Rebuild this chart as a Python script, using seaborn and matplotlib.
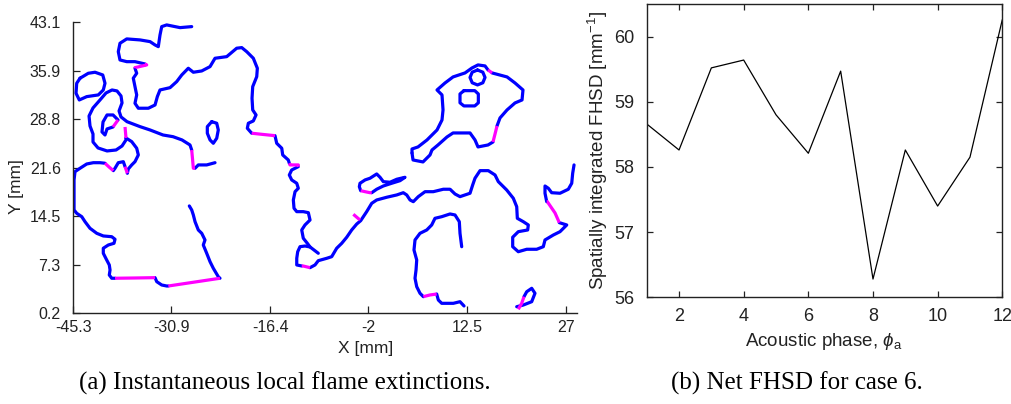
import numpy as np
import pandas as pd
import matplotlib
matplotlib.use("Agg")
import matplotlib.pyplot as plt
import seaborn as sns

# ---------------- data: panel (b) ----------------
phase = [1, 2, 3, 4, 5, 6, 7, 8, 9, 10, 11, 12]
fhsd = [58.66, 58.26, 59.52, 59.64, 58.80, 58.21, 59.47, 56.28, 58.26, 57.40, 58.15, 60.26]
b_xticks = [2, 4, 6, 8, 10, 12]
b_yticks = [56, 57, 58, 59, 60]

# ---------------- data: panel (a) flame contours [mm] ----------------
a_xticks = [-45.3, -30.9, -16.4, -2, 12.5, 27]
a_xlabels = ["-45.3", "-30.9", "-16.4", "-2", "12.5", "27"]
a_yticks = [0.2, 7.3, 14.5, 21.6, 28.8, 35.9, 43.1]
a_ylabels = ["0.2", "7.3", "14.5", "21.6", "28.8", "35.9", "43.1"]

# flame front (blue) pieces
top_b1 = [(-27.93, 42.42), (-29.64, 42.27), (-31.60, 42.67), (-32.33, 42.42), (-32.58, 41.19),
          (-32.83, 39.47), (-33.31, 39.72), (-34.04, 40.21), (-35.51, 40.46), (-37.46, 40.61),
          (-38.45, 39.97), (-38.70, 38.73), (-38.45, 37.51), (-37.46, 37.26), (-36.25, 37.26),
          (-34.78, 36.92)]
top_b2 = [(-36.25, 36.29), (-36.00, 35.55), (-36.50, 34.82), (-36.25, 33.58), (-36.00, 32.36),
          (-36.25, 31.13), (-35.76, 30.40), (-34.29, 30.40), (-33.31, 30.88), (-32.97, 32.11),
          (-32.58, 33.09), (-31.11, 33.43), (-30.13, 34.32), (-29.39, 35.30), (-28.43, 36.29),
          (-27.69, 35.70), (-26.46, 35.89), (-25.24, 36.53), (-24.51, 37.76), (-22.79, 38.00),
          (-21.33, 39.24), (-20.59, 39.33), (-19.86, 38.73), (-18.89, 37.76), (-18.30, 36.29),
          (-18.39, 35.05), (-18.98, 33.58), (-19.08, 31.87), (-18.98, 30.15), (-18.49, 29.41),
          (-18.89, 28.53), (-19.62, 28.19), (-19.77, 27.45), (-19.13, 26.72)]
top_b3 = [(-15.71, 26.36), (-15.46, 25.24), (-14.72, 24.51), (-14.58, 23.52), (-13.76, 22.78),
          (-13.61, 22.30)]
top_b4 = [(-12.29, 21.80), (-13.26, 21.31), (-13.61, 20.57), (-13.26, 19.84), (-12.52, 19.35),
          (-12.29, 18.61), (-12.77, 18.11), (-13.02, 16.89), (-12.92, 15.67), (-12.52, 15.17),
          (-11.56, 15.17), (-10.82, 15.02), (-10.57, 13.94), (-11.31, 13.21), (-11.79, 12.47),
          (-11.56, 11.25), (-10.97, 10.51), (-10.57, 9.97), (-10.18, 9.67), (-9.36, 9.04)]
top_b5 = [(-10.57, 9.97), (-11.31, 10.11), (-12.04, 10.01), (-12.38, 9.27), (-12.52, 8.30),
          (-12.52, 7.32), (-11.79, 7.17)]
top_b6 = [(-10.57, 6.92), (-9.84, 7.32), (-9.36, 7.95), (-8.12, 8.30), (-7.39, 8.54),
          (-6.66, 9.78), (-5.92, 10.51), (-5.19, 11.40), (-4.46, 12.47), (-3.72, 13.35),
          (-3.14, 13.84), (-2.26, 15.17), (-1.52, 16.40), (-0.79, 16.89), (0.68, 17.29),
          (2.15, 17.63), (3.11, 17.96), (3.61, 17.63), (4.10, 16.89), (4.58, 16.64),
          (5.31, 17.38), (6.30, 18.11), (7.51, 18.11), (8.98, 18.47), (9.97, 18.47),
          (10.70, 17.77), (11.43, 17.38), (12.90, 17.88), (13.29, 19.10), (13.63, 20.09),
          (14.37, 21.21), (15.58, 21.21), (16.57, 20.57), (17.05, 19.59), (18.28, 18.36),
          (19.25, 17.14), (19.75, 15.90), (19.84, 14.19), (20.72, 13.69), (21.45, 13.21),
          (21.36, 12.47), (19.98, 12.22), (19.16, 11.40), (19.16, 10.01), (19.98, 9.27),
          (21.22, 9.63), (22.68, 9.63), (23.65, 10.01), (23.90, 11.00), (25.12, 11.73),
          (26.10, 12.22), (26.84, 12.96), (27.09, 13.21), (26.00, 13.55)]
top_b7 = [(24.15, 16.64), (23.90, 17.88), (23.90, 18.95), (24.39, 18.61), (24.88, 17.96),
          (26.10, 17.88), (27.32, 18.47), (27.82, 19.35), (27.96, 20.82), (28.16, 22.05)]
tongue_b = [(-1.52, 17.96), (-0.79, 18.47), (0.18, 18.95), (1.41, 19.35), (2.63, 19.73),
            (3.36, 20.23), (2.15, 19.94), (1.16, 19.50), (0.18, 19.59), (-0.30, 20.23),
            (-0.79, 20.72), (-1.77, 20.09), (-2.50, 19.84), (-3.24, 19.35), (-3.34, 18.85),
            (-3.14, 18.26)]
c_b1 = [(11.68, 10.01), (11.43, 11.98), (11.33, 13.69), (10.70, 14.68), (9.97, 14.83),
        (8.75, 14.43), (7.76, 14.19), (7.28, 13.21), (6.55, 12.47), (5.56, 11.98),
        (4.83, 11.00), (4.68, 9.52), (5.08, 8.05), (4.98, 6.58), (4.83, 5.36), (5.08, 4.12),
        (5.56, 3.15), (6.05, 2.65)]
c_b2 = [(8.01, 3.04), (8.25, 2.16), (8.75, 1.67), (10.45, 1.67), (11.43, 1.91), (12.02, 1.28)]
loop_b = [(20.82, 2.65), (21.22, 3.38), (21.95, 3.88), (22.43, 3.15), (21.95, 1.91),
          (20.72, 1.42), (19.75, 1.17)]
blob_b1 = [(4.39, 23.81), (4.54, 22.78), (6.00, 22.49), (7.03, 23.52), (7.32, 24.25),
           (8.20, 24.99), (9.52, 26.17), (10.41, 26.76), (12.90, 26.76), (13.63, 25.73),
           (14.07, 24.70), (15.54, 24.99), (16.27, 25.43)]
blob_b2 = [(16.86, 27.79), (17.30, 28.97), (18.33, 30.15), (19.50, 31.18), (20.53, 31.62),
           (20.67, 33.09), (19.50, 34.12), (18.33, 35.01), (16.13, 35.60)]
blob_b3 = [(15.54, 36.04), (15.10, 36.63), (14.07, 36.78), (13.19, 36.33), (12.17, 35.60),
           (10.41, 35.01), (9.23, 34.12), (8.06, 33.09), (8.79, 32.36), (8.94, 30.15),
           (8.79, 28.67), (8.06, 27.20), (6.59, 25.73), (5.27, 24.70), (4.39, 24.40),
           (4.39, 23.81)]
blob_hole1 = [(14.00, 36.03), (14.78, 35.71), (15.10, 34.93), (14.78, 34.15), (14.00, 33.83),
              (13.22, 34.15), (12.90, 34.93), (13.22, 35.71), (14.00, 36.03)]
blob_hole2 = [(12.00, 32.99), (13.60, 32.99), (14.12, 32.50), (14.12, 31.20), (13.60, 30.74),
              (12.00, 30.74), (11.43, 31.20), (11.43, 32.50), (12.00, 32.99)]
oval_b = [(-44.31, 34.82), (-43.10, 35.55), (-42.11, 35.70), (-40.98, 35.30), (-40.65, 34.08),
          (-40.90, 33.09), (-41.63, 32.36), (-43.33, 32.11), (-44.42, 31.62), (-44.90, 32.61),
          (-44.80, 34.08), (-44.31, 34.82)]
s_b1 = [(-24.51, 22.38), (-25.73, 22.05), (-26.96, 22.05), (-27.44, 21.56)]
s_b2 = [(-27.93, 24.25), (-28.18, 24.99), (-29.35, 25.73), (-30.67, 26.21), (-32.14, 26.46),
        (-34.04, 27.20), (-35.51, 27.69), (-37.42, 28.42), (-38.30, 29.12), (-38.59, 30.00),
        (-38.15, 31.18), (-38.30, 32.21), (-38.89, 32.95), (-39.62, 33.09), (-40.50, 32.65),
        (-41.38, 31.62), (-42.41, 30.44), (-42.99, 29.26), (-42.85, 27.79), (-42.41, 26.61),
        (-42.41, 25.43), (-41.67, 24.55), (-40.35, 24.11), (-39.03, 24.25), (-38.15, 24.84),
        (-37.57, 25.73), (-37.57, 26.02)]
s_inner_b = [(-39.47, 27.64), (-40.35, 27.35), (-40.65, 26.46), (-41.09, 26.91), (-40.94, 28.38),
             (-40.35, 29.41), (-39.47, 29.41), (-39.03, 28.97), (-38.74, 28.67)]
small_oval_b = [(-24.99, 28.42), (-24.26, 28.19), (-24.03, 27.20), (-24.26, 25.98), (-24.76, 25.24),
                (-25.24, 25.73), (-25.64, 26.72), (-25.64, 27.69), (-24.99, 28.42)]
left_b1 = [(-37.57, 26.02), (-36.73, 25.48), (-36.00, 24.51), (-35.76, 23.52), (-36.25, 22.53),
           (-36.73, 22.05), (-37.23, 21.46), (-37.37, 20.82)]
left_b2 = [(-37.71, 21.80), (-37.96, 22.53), (-38.70, 22.38), (-39.18, 21.56), (-39.43, 21.21)]
left_b3 = [(-40.65, 22.30), (-41.38, 22.38), (-42.36, 22.38), (-43.33, 22.19), (-44.31, 21.56),
           (-45.05, 21.06), (-45.19, 19.84), (-45.19, 17.88), (-45.19, 15.42), (-44.80, 14.93),
           (-44.06, 14.43), (-43.58, 13.69), (-42.85, 12.72), (-41.86, 11.98), (-40.90, 11.59),
           (-39.66, 11.48), (-39.18, 11.10), (-39.33, 10.51), (-40.16, 10.26), (-40.90, 9.78),
           (-40.90, 9.04), (-40.40, 8.05), (-40.02, 7.32), (-39.91, 6.58), (-40.02, 5.84),
           (-39.66, 5.36), (-39.18, 5.36)]
left_b4 = [(-33.31, 5.45), (-33.06, 4.86), (-32.33, 4.37), (-31.60, 4.22), (-31.36, 4.22)]
left_b5 = [(-23.78, 5.36), (-24.03, 5.59), (-24.76, 6.83), (-25.24, 7.80), (-25.73, 9.04),
           (-26.23, 10.26), (-25.98, 11.00), (-26.46, 11.98), (-26.96, 12.47), (-27.44, 13.69),
           (-27.69, 14.68), (-27.93, 15.42), (-28.28, 16.01)]

# local extinction (magenta) pieces
top_m1 = [(-34.78, 36.92), (-34.53, 36.78), (-35.51, 36.55), (-36.25, 36.38), (-36.25, 36.29)]
top_m2 = [(-19.13, 26.72), (-17.47, 26.54), (-15.71, 26.36)]
top_m3 = [(-13.61, 22.30), (-13.51, 22.05), (-12.29, 22.05), (-12.29, 21.80)]
top_m4 = [(-11.79, 7.17), (-11.60, 7.17), (-10.57, 6.92)]
top_m5 = [(26.00, 13.55), (25.37, 14.98), (24.24, 16.64), (24.15, 16.64)]
spur_m = [(-4.22, 14.78), (-3.24, 13.94)]
tongue_m = [(-3.14, 18.26), (-2.50, 18.11), (-1.77, 17.96), (-1.52, 17.96)]
c_m = [(6.05, 2.65), (7.03, 2.90), (8.01, 3.04)]
loop_m = [(19.98, 0.79), (20.48, 1.67), (20.82, 2.65)]
blob_m1 = [(16.27, 25.43), (16.57, 26.61), (16.86, 27.79)]
blob_m2 = [(16.13, 35.60), (15.54, 36.04)]
s_m1 = [(-27.44, 21.56), (-27.69, 21.56), (-27.81, 22.93), (-27.93, 24.25)]
s_m2 = [(-37.57, 26.02), (-37.71, 27.64)]
s_inner_m = [(-38.74, 28.67), (-39.47, 27.64)]
left_m1 = [(-37.37, 20.82), (-37.71, 21.80)]
left_m2 = [(-39.43, 21.21), (-40.06, 21.75), (-40.65, 22.30)]
left_m3 = [(-39.18, 5.36), (-36.25, 5.40), (-33.31, 5.45)]
left_m4 = [(-31.36, 4.22), (-27.44, 4.81), (-23.78, 5.36)]

flame_pieces = [top_b1, top_b2, top_b3, top_b4, top_b5, top_b6, top_b7, tongue_b, c_b1, c_b2,
                loop_b, blob_b1, blob_b2, blob_b3, blob_hole1, blob_hole2, oval_b, s_b1, s_b2,
                s_inner_b, small_oval_b, left_b1, left_b2, left_b3, left_b4, left_b5]
ext_pieces = [top_m1, top_m2, top_m3, top_m4, top_m5, spur_m, tongue_m, c_m, loop_m, blob_m1,
              blob_m2, s_m1, s_m2, s_inner_m, left_m1, left_m2, left_m3, left_m4]


def to_frame(pieces):
    rows = []
    for k, p in enumerate(pieces):
        for (x, y) in p:
            rows.append((k, x, y))
    return pd.DataFrame(rows, columns=["seg", "x", "y"])


df_flame = to_frame(flame_pieces)
df_ext = to_frame(ext_pieces)
df_b = pd.DataFrame({"phase": phase, "fhsd": fhsd})

# ---------------- figure ----------------
sns.set_style("white")
plt.rcParams["font.family"] = ["Liberation Sans", "DejaVu Sans"]
plt.rcParams["mathtext.fontset"] = "custom"
plt.rcParams["mathtext.rm"] = "Liberation Sans"
plt.rcParams["mathtext.it"] = "Liberation Sans:italic"

W, H = 1012, 404
fig = plt.figure(figsize=(W / 100, H / 100), dpi=100)
fig.patch.set_facecolor("white")


def px_axes(x0, y0, x1, y1):
    return fig.add_axes([x0 / W, (H - y1) / H, (x1 - x0) / W, (y1 - y0) / H])


AX_COL = "#222222"

# panel (a)
ax1 = px_axes(73.3, 22, 576.7, 313.3)
sns.lineplot(data=df_flame, x="x", y="y", units="seg", estimator=None, sort=False,
             color="#0000ff", lw=2.3, solid_capstyle="round", solid_joinstyle="round",
             ax=ax1, legend=False)
sns.lineplot(data=df_ext, x="x", y="y", units="seg", estimator=None, sort=False,
             color="#ff00ff", lw=2.3, solid_capstyle="butt", solid_joinstyle="round",
             ax=ax1, legend=False)
ax1.set_xlim(-45.3, 28.55)
ax1.set_ylim(0.2, 43.1)
ax1.set_xticks(a_xticks)
ax1.set_xticklabels(a_xlabels)
ax1.set_yticks(a_yticks)
ax1.set_yticklabels(a_ylabels)
ax1.set_xlabel("")
ax1.set_ylabel("")
for s in ["top", "right"]:
    ax1.spines[s].set_visible(False)
for s in ["left", "bottom"]:
    ax1.spines[s].set_color(AX_COL)
    ax1.spines[s].set_linewidth(1.0)
ax1.tick_params(axis="both", direction="in", length=5, width=0.9, color=AX_COL,
                labelsize=11.5, labelcolor=AX_COL, left=True, bottom=True,
                top=False, right=False)
ax1.tick_params(axis="x", pad=5)
ax1.tick_params(axis="y", pad=9)
fig.text(366 / W, 1 - 349 / H, "X [mm]", ha="center", va="center", fontsize=12.5, color=AX_COL)
fig.text(17 / W, 1 - 187 / H, "Y [mm]", ha="center", va="center", rotation=90, fontsize=12.5,
         color=AX_COL)

# panel (b)
ax2 = px_axes(646.7, 4, 1002.3, 297.3)
sns.lineplot(data=df_b, x="phase", y="fhsd", color="black", lw=0.9, ax=ax2, legend=False)
ax2.set_xlim(1, 12)
ax2.set_ylim(56, 60.5)
ax2.set_xticks(b_xticks)
ax2.set_yticks(b_yticks)
ax2.set_xlabel("")
ax2.set_ylabel("")
for s in ax2.spines.values():
    s.set_color(AX_COL)
    s.set_linewidth(1.0)
ax2.tick_params(axis="both", direction="in", length=4, width=0.9, color=AX_COL,
                labelsize=13, labelcolor=AX_COL, top=True, right=True, left=True, bottom=True)
ax2.tick_params(axis="x", pad=8)
ax2.tick_params(axis="y", pad=9)
fig.text(824 / W, 1 - 341 / H, r"Acoustic phase, $\phi_\mathrm{a}$", ha="center", va="center",
         fontsize=13.5, color=AX_COL)
fig.text(598 / W, 1 - 151 / H, r"Spatially integrated FHSD [mm$^{-1}$]", ha="center",
         va="center", rotation=90, fontsize=13.5, color=AX_COL)

# captions
fig.text(285 / W, 1 - 383 / H, "(a) Instantaneous local flame extinctions.", ha="center",
         va="center", fontsize=18, family="Liberation Serif", color="black")
fig.text(797 / W, 1 - 383 / H, "(b) Net FHSD for case 6.", ha="center", va="center",
         fontsize=18, family="Liberation Serif", color="black")

fig.savefig("out.png", dpi=100, facecolor="white")
